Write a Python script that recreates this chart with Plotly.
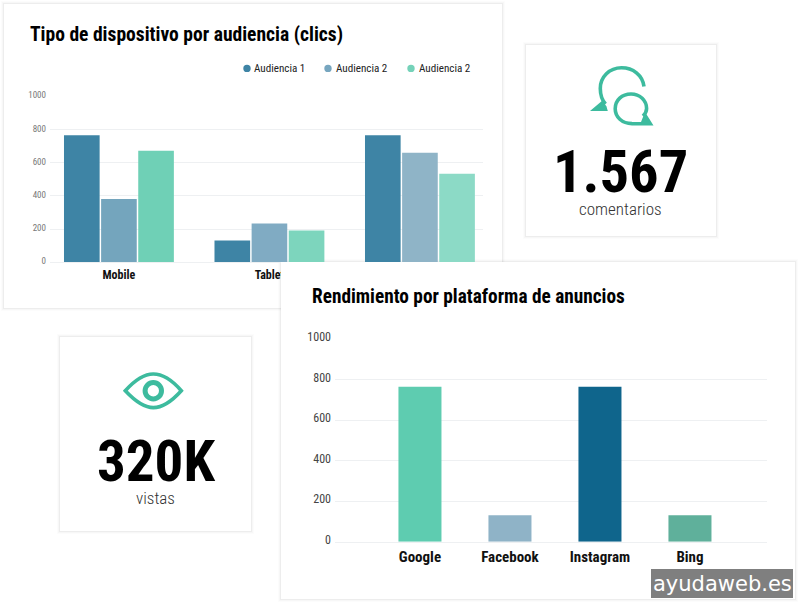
import plotly.graph_objects as go

W, H = 800, 604

# Device clicks per audience
devices = ["Mobile", "Tablet", "Desktop"]
audience_a = [765, 132, 765]
audience_b = [381, 234, 660]
audience_c = [672, 192, 533]
colors_a = ["#3E84A5", "#3E84A5", "#3E84A5"]
colors_b = ["#74A5BD", "#80ABC3", "#8FB4C7"]
colors_c = ["#6FD0B6", "#7DD5BD", "#8CDAC6"]
legend_names = ["Audiencia 1", "Audiencia 2", "Audiencia 2"]
legend_colors = ["#3E84A5", "#77A6BF", "#75D2B9"]
legend_dot_x = [247, 328, 411]
legend_text_x = [251.5, 333.5, 416.5]

# Ad platform performance
platforms = ["Google", "Facebook", "Instagram", "Bing"]
platform_values = [765, 130, 765, 130]
platform_colors = ["#5ECCB0", "#8FB3C7", "#0F658C", "#5FB09B"]

y_ticks = [0, 200, 400, 600, 800, 1000]
ACCENT = "#3DBB9E"
COND = dict(family="'Roboto Condensed', 'Liberation Sans Narrow', Roboto")


def px(x):
    return x / W


def py(y):
    return 1 - y / H


def rect_shapes(x0, y0, x1, y1, **refs):
    """Soft shadow rings plus a white card, in page pixels unless refs convert them."""
    conv_x = refs.get("cx", px)
    conv_y = refs.get("cy", py)
    xref = refs.get("xref", "paper")
    yref = refs.get("yref", "paper")
    out = []
    for grow, shade in [(3, "rgba(0,0,0,0.012)"), (2, "rgba(0,0,0,0.02)"), (1, "rgba(0,0,0,0.04)")]:
        out.append(dict(type="rect", xref=xref, yref=yref, layer="below",
                        x0=conv_x(x0 - grow), x1=conv_x(x1 + grow),
                        y0=conv_y(y0 - grow), y1=conv_y(y1 + grow),
                        fillcolor=shade, line_width=0))
    out.append(dict(type="rect", xref=xref, yref=yref, layer="below",
                    x0=conv_x(x0), x1=conv_x(x1), y0=conv_y(y0), y1=conv_y(y1),
                    fillcolor="white", line_width=0))
    return out


def path_from(points):
    """Build an SVG path in paper space from (command, x, y, ...) page-pixel tuples."""
    parts = []
    for item in points:
        cmd, coords = item[0], item[1:]
        if cmd == "Z":
            parts.append("Z")
            continue
        pairs = [f"{px(coords[i]):.5f},{py(coords[i + 1]):.5f}" for i in range(0, len(coords), 2)]
        parts.append(cmd + " ".join(pairs))
    return " ".join(parts)


def icon(points, fill=None, width=0):
    return dict(type="path", xref="paper", yref="paper", layer="below",
                path=path_from(points),
                fillcolor=fill if fill else "rgba(0,0,0,0)",
                line=dict(color=ACCENT, width=width))


fig = go.Figure()

for name, vals, cols in zip(legend_names, [audience_a, audience_b, audience_c],
                            [colors_a, colors_b, colors_c]):
    fig.add_trace(go.Bar(x=devices, y=vals, name=name, marker=dict(color=cols, line_width=0),
                         xaxis="x", yaxis="y", showlegend=False, hoverinfo="skip"))

fig.add_trace(go.Bar(x=platforms, y=platform_values, marker=dict(color=platform_colors, line_width=0),
                     xaxis="x2", yaxis="y2", showlegend=False, hoverinfo="skip", width=0.478))

shapes = []
shapes += rect_shapes(4, 4, 502, 308)
shapes += rect_shapes(526, 45, 716, 236)
shapes += rect_shapes(60, 337, 251, 531)

# Legend swatches
for dot_x, col in zip(legend_dot_x, legend_colors):
    shapes.append(dict(type="circle", xref="paper", yref="paper", layer="below",
                       x0=px(dot_x - 3.7), x1=px(dot_x + 3.7), y0=py(64.7), y1=py(72.1),
                       fillcolor=col, line_width=0))

# Speech-bubble icon
shapes.append(icon([("M", 644.0, 86.5), ("C", 642.5, 75, 633, 67.8, 621.5, 67.8),
                    ("C", 609.5, 67.8, 600.3, 77, 600.3, 88.5), ("C", 600.3, 95, 602, 100, 605.5, 104)], width=3.6))
shapes.append(icon([("M", 590, 111), ("L", 607.8, 111), ("L", 606.5, 106.5), ("L", 602.5, 100.5), ("Z",)], fill=ACCENT))
shapes.append(icon([("M", 632, 123.6), ("C", 622, 123.6, 615.2, 117, 615.2, 108.8),
                    ("C", 615.2, 100, 622, 94, 631, 94), ("C", 640, 94, 646.6, 100.5, 646.6, 108.5),
                    ("C", 646.6, 111, 645.5, 113.5, 643, 116)], width=3.6))
shapes.append(icon([("M", 645, 112), ("L", 653.5, 125.5), ("L", 632, 125.5), ("L", 632, 122),
                    ("L", 641, 122), ("Z",)], fill=ACCENT))

# Eye icon
shapes.append(icon([("M", 125.3, 390.7), ("C", 135, 380, 144, 374, 153.3, 374),
                    ("C", 163, 374, 172, 380, 181.3, 390.7), ("C", 172, 401, 163, 407.6, 153.3, 407.6),
                    ("C", 144, 407.6, 135, 401, 125.3, 390.7), ("Z",)], width=3.6))
shapes.append(dict(type="circle", xref="paper", yref="paper", layer="below",
                   x0=px(145.1), x1=px(161.5), y0=py(382.5), y1=py(398.9),
                   fillcolor="rgba(0,0,0,0)", line=dict(color=ACCENT, width=5)))

# The ad-platform card sits over the first chart, so it belongs to the second subplot's layer.
D2_X0, D2_X1, D2_Y0, D2_Y1 = 335.0, 767.0, 339.0, 541.7
conv_dx = lambda x: (x - D2_X0) / (D2_X1 - D2_X0)
conv_dy = lambda y: (D2_Y1 - y) / (D2_Y1 - D2_Y0)
shapes += rect_shapes(281, 262, 795, 599, cx=conv_dx, cy=conv_dy, xref="x2 domain", yref="y2 domain")

# Axis labels render above subplot layers, so the overlapped part of the first chart's labels is masked.
shapes.append(dict(type="rect", xref="paper", yref="paper", layer="above",
                   x0=px(281), x1=px(502), y0=py(262), y1=py(285),
                   fillcolor="white", line_width=0))

# Watermark plate
shapes.append(dict(type="rect", xref="paper", yref="paper", layer="above",
                   x0=px(651), x1=px(793), y0=py(569), y1=py(598),
                   fillcolor="#7F7F7F", line_width=0))


def label(text, x, y, size, color="#000000", weight=400, anchor="left", font=None):
    f = dict(COND) if font is None else dict(family=font)
    f.update(size=size, color=color, weight=weight)
    return dict(text=text, x=px(x), y=py(y), xref="paper", yref="paper", showarrow=False,
                xanchor=anchor, yanchor="middle", font=f, align=anchor)


annotations = [
    label("Tipo de dispositivo por audiencia (clics)", 27.5, 34.5, 19.55, weight=700),
    label("Rendimiento por plataforma de anuncios", 310, 296, 19.3, weight=700),
    label("1.567", 620, 172, 58.5, weight=700, anchor="center"),
    label("comentarios", 620.5, 209, 17, color="#333333", weight=300, anchor="center"),
    label("320K", 156, 461, 57, weight=700, anchor="center"),
    label("vistas", 155.5, 498, 17, color="#333333", weight=300, anchor="center"),
    label("ayudaweb.es", 722, 584, 21, color="#FFFFFF", anchor="center", font="DejaVu Sans"),
]
for text_x, text in zip(legend_text_x, legend_names):
    annotations.append(label(text, text_x, 68.5, 11.1, color="#222222"))

GRID = "#EEF0F2"
fig.update_layout(
    width=W, height=H, margin=dict(l=0, r=0, t=0, b=0, pad=0, autoexpand=False), autosize=False,
    paper_bgcolor="white", plot_bgcolor="rgba(0,0,0,0)",
    barmode="group", bargap=0.26, bargroupgap=0.04,
    shapes=shapes, annotations=annotations, showlegend=False,
    font=dict(family="Roboto", color="#000000"),
    xaxis=dict(domain=[px(50), px(483)], anchor="y", type="category", automargin=False,
               categoryorder="array", categoryarray=devices, range=[-0.458, 2.419],
               showgrid=False, showline=True, linecolor=GRID, ticks="",
               tickfont=dict(size=12, color="#111111", weight=700, **COND), ticklabelstandoff=1),
    yaxis=dict(domain=[py(262.3), py(96.3)], anchor="x", range=[0, 1000], tickvals=y_ticks, automargin=False,
               gridcolor=GRID, gridwidth=1, zeroline=False, showline=False, ticks="",
               tickfont=dict(size=9, color="#777777", **COND), ticklabelstandoff=3, ticklabelshift=-1),
    xaxis2=dict(domain=[px(D2_X0), px(D2_X1)], anchor="y2", type="category", automargin=False,
                categoryorder="array", categoryarray=platforms, range=[-0.944, 3.856],
                showgrid=False, showline=True, linecolor=GRID, ticks="",
                tickfont=dict(size=15, color="#111111", weight=700, **COND), ticklabelstandoff=1),
    yaxis2=dict(domain=[py(D2_Y1), py(D2_Y0)], anchor="x2", range=[0, 1000], tickvals=y_ticks, automargin=False,
                gridcolor=GRID, gridwidth=1, zeroline=False, showline=False, ticks="",
                tickfont=dict(size=12, color="#444444", **COND), ticklabelstandoff=3, ticklabelshift=-2),
)

fig.write_html("out.html", config={"displayModeBar": False})
